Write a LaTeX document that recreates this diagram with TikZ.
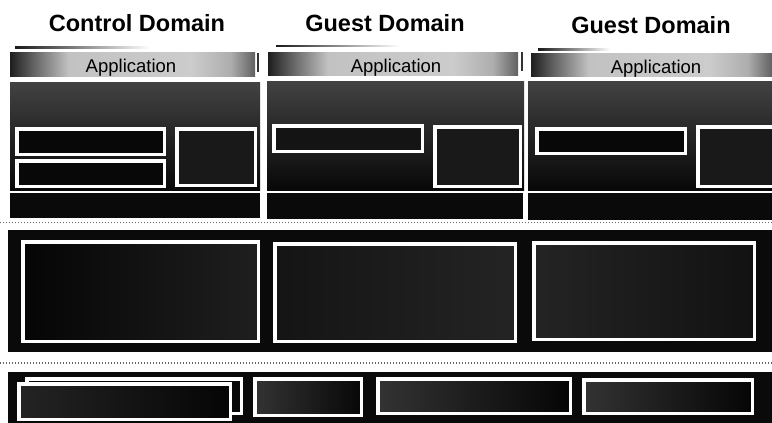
\documentclass[tikz,border=0pt]{standalone}
\usepackage{fontspec}
\setmainfont{Liberation Sans}
\pgfdeclarehorizontalshading{appshade}{100bp}{color(0bp)=(black!88); color(25bp)=(black!88); color(30bp)=(black!60); color(37bp)=(black!24); color(62bp)=(black!20); color(70bp)=(black!32); color(75bp)=(black!62); color(100bp)=(black!62)}
\begin{document}
\begin{tikzpicture}[x=1pt,y=-1pt,
  blk/.style={anchor=north west, inner sep=0pt, outer sep=0pt, fill=black!96, draw=none},
  wbox/.style={anchor=north west, inner sep=0pt, outer sep=0pt, fill=black!97, draw=white, line width=3.5pt},
  appbar/.style={blk, shading=appshade},
  topblk/.style={blk, top color=black!74, bottom color=black!97},
  title/.style={anchor=base, inner sep=0pt, font=\fontsize{23.5}{28}\selectfont\bfseries},
  apptext/.style={anchor=base, inner sep=0pt, font=\fontsize{18.5}{22}\selectfont},
  sep/.style={black!60, line width=1.3pt, dash pattern=on 1.4pt off 1.6pt},
  hair/.style={blk, left color=black!90, right color=white},
  tick/.style={blk, fill=black!80}
]
\newcommand\mkbox[6]{\node[#2, minimum width={(#5-#3)*1pt}, minimum height={(#6-#4)*1pt}] (#1) at (#3,#4) {};}
\newcommand\mkwbox[6]{\node[#2, minimum width={(#5-#3-3.5)*1pt}, minimum height={(#6-#4-3.5)*1pt}] (#1) at (#3+1.75,#4+1.75) {};}
\useasboundingbox (0,0) rectangle (772,423);
\fill[white] (0,0) rectangle (772,423);
\clip (0,0) rectangle (772,423);

% titles
\node[title] (t1) at (137,31) {Control Domain};
\node[title] (t2) at (385,31) {Guest Domain};
\node[title] (t3) at (651,33) {Guest Domain};

% hairlines above application bars
\mkbox{h1}{hair}{15}{46.5}{150}{48}
\mkbox{h2}{hair}{276}{45}{400}{46.5}
\mkbox{h3}{hair}{538}{48.5}{610}{50}

% application bars
\mkbox{a1}{appbar}{10}{52}{255}{76}
\mkbox{a2}{appbar}{268}{52}{518}{75}
\mkbox{a3}{appbar}{531}{53}{772}{76}
\mkbox{k1}{tick}{256.5}{53}{258.5}{72}
\mkbox{k2}{tick}{520.5}{52}{522.5}{71}
\node[apptext] (at1) at (131,72) {Application};
\node[apptext] (at2) at (396,72) {Application};
\node[apptext] (at3) at (656,73) {Application};

% upper blocks
\mkbox{u1}{topblk}{10}{82}{260}{190}
\mkbox{u2}{topblk}{267}{81}{524}{190}
\mkbox{u3}{topblk}{528}{81}{772}{190}
\mkwbox{c1a}{wbox}{15}{127}{166}{156}
\mkwbox{c1b}{wbox}{15}{159}{166}{188}
\mkwbox{c1r}{wbox, fill=black!90}{175}{127}{257}{187}
\mkwbox{c2a}{wbox, fill=black!92}{272}{124}{424}{153}
\mkwbox{c2r}{wbox, fill=black!90}{433}{125}{522}{188}
\mkwbox{c3a}{wbox}{535}{127}{687}{155}
\mkwbox{c3r}{wbox, fill=black!90}{696}{125}{780}{188}

% lower bars of the columns
\mkbox{l1}{blk}{10}{193}{260}{218}
\mkbox{l2}{blk}{267}{193}{523}{219}
\mkbox{l3}{blk}{528}{193}{772}{220}

% dotted separators
\coordinate (s1l) at (0,222.5);
\coordinate (s1r) at (772,222.5);
\coordinate (s2l) at (0,363);
\coordinate (s2r) at (772,363);
\draw[sep] (s1l) -- (s1r);
\draw[sep] (s2l) -- (s2r);

% middle band
\mkbox{mid}{blk}{8}{230}{772}{352}
\mkwbox{m1}{wbox, left color=black!98, right color=black!88}{21}{240}{260}{343}
\mkwbox{m2}{wbox, left color=black!92, right color=black!86}{273}{242}{517}{343}
\mkwbox{m3}{wbox, left color=black!86, right color=black!93}{532}{241}{756}{341}

% bottom band
\mkbox{bot}{blk}{8}{372}{772}{430}
\mkwbox{b1back}{wbox}{25}{377}{243}{415}
\mkwbox{b1}{wbox, left color=black!86, right color=black!98}{17}{382}{232}{421}
\mkwbox{b2}{wbox, left color=black!80, right color=black!97}{253}{377}{363}{417}
\mkwbox{b3}{wbox, left color=black!80, right color=black!98}{376}{377}{572}{415}
\mkwbox{b4}{wbox, left color=black!80, right color=black!98}{582}{378}{754}{415}
\end{tikzpicture}
\end{document}
